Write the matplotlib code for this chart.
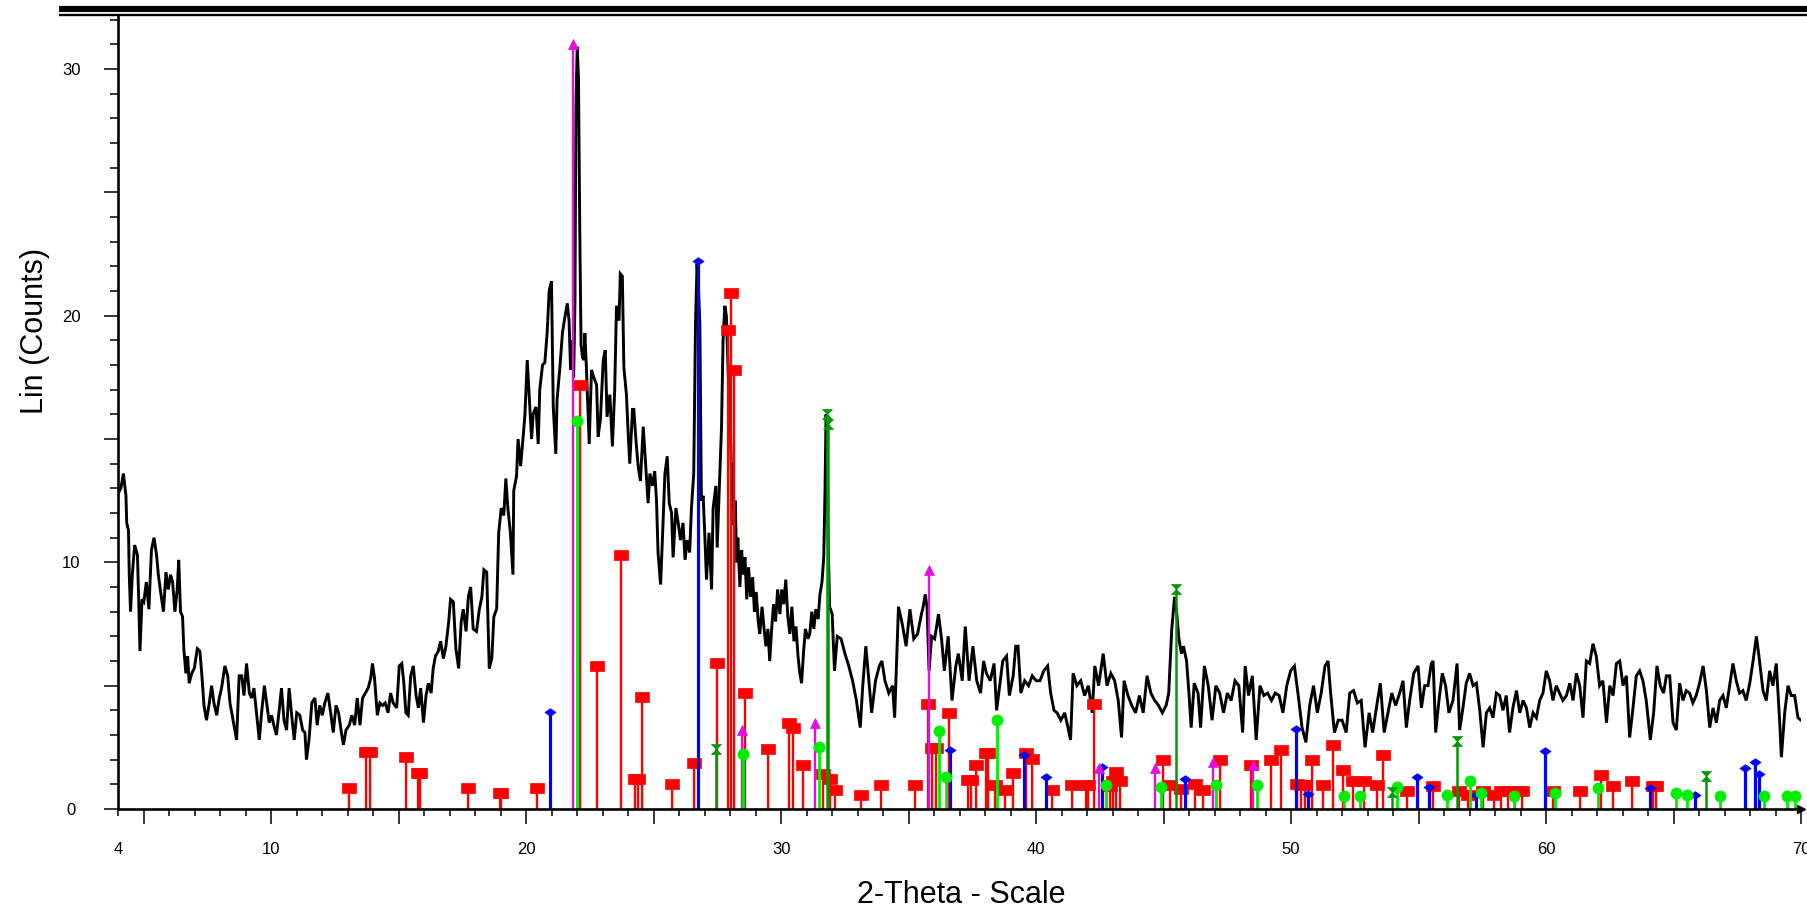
import matplotlib
matplotlib.use("Agg")
import matplotlib.pyplot as plt
from matplotlib.lines import Line2D

plt.rcParams['font.family'] = ['Liberation Sans', 'DejaVu Sans']

# ---------------- data ----------------
scan_points = [
 (4.0,12.8),(4.1,13.0),(4.2,13.6),(4.3,12.7),(4.33,11.6),(4.4,11.3),(4.43,9.5),(4.48,8.0),(4.55,9.5),(4.64,10.7),
 (4.75,10.3),(4.8,8.5),(4.85,6.4),(4.93,8.5),(5.0,8.4),(5.1,9.2),(5.2,8.1),(5.3,10.5),(5.4,11.0),(5.5,10.3),
 (5.57,9.5),(5.66,8.8),(5.77,8.0),(5.87,9.6),(5.96,8.9),(6.05,9.5),(6.13,9.2),(6.22,8.0),(6.31,8.9),(6.37,10.1),
 (6.44,8.0),(6.52,7.8),(6.57,6.5),(6.65,5.5),(6.72,6.2),(6.78,5.1),(6.88,5.5),(6.98,5.7),(7.1,6.5),(7.2,6.4),
 (7.28,5.4),(7.36,4.2),(7.46,3.6),(7.57,4.3),(7.66,5.0),(7.75,4.3),(7.86,3.8),(7.96,4.5),(8.05,4.9),(8.18,5.8),
 (8.29,5.4),(8.38,4.3),(8.5,3.6),(8.64,2.8),(8.74,5.4),(8.84,5.4),(8.93,4.6),(9.03,5.9),(9.14,4.7),(9.23,4.5),
 (9.32,4.9),(9.42,3.9),(9.53,2.8),(9.62,3.9),(9.73,5.0),(9.82,4.3),(9.92,3.5),(10.01,3.8),(10.1,3.4),(10.2,3.0),
 (10.3,3.9),(10.4,4.9),(10.5,3.6),(10.6,3.2),(10.7,4.9),(10.8,3.8),(10.9,2.8),(11.0,3.9),(11.12,3.8),(11.23,3.2),
 (11.32,3.1),(11.38,2.0),(11.48,2.8),(11.59,4.3),(11.71,4.5),(11.8,3.4),(11.9,4.2),(12.0,3.8),(12.1,4.3),(12.22,4.7),
 (12.33,3.9),(12.43,3.1),(12.54,4.2),(12.64,3.9),(12.75,3.1),(12.83,2.6),(12.93,3.2),(13.06,3.4),(13.16,3.8),(13.27,3.4),
 (13.37,4.5),(13.48,3.4),(13.58,4.5),(13.69,4.7),(13.8,4.9),(13.9,5.3),(13.97,5.9),(14.05,5.3),(14.16,3.8),(14.26,4.3),
 (14.37,4.2),(14.47,4.3),(14.58,3.9),(14.68,4.7),(14.78,4.3),(14.92,4.1),(15.02,5.8),(15.12,5.9),(15.2,5.1),(15.28,3.9),
 (15.37,3.8),(15.47,5.4),(15.57,5.8),(15.68,4.6),(15.77,4.1),(15.86,4.9),(15.97,3.5),(16.07,4.6),(16.16,5.1),(16.27,4.7),
 (16.35,5.7),(16.44,6.2),(16.55,6.4),(16.64,6.8),(16.75,6.1),(16.85,6.6),(16.96,7.6),(17.03,8.5),(17.14,8.4),(17.24,6.5),
 (17.35,5.7),(17.45,7.6),(17.53,8.1),(17.64,7.2),(17.73,8.6),(17.82,9.0),(17.92,7.3),(18.05,7.2),(18.16,8.1),(18.26,8.6),
 (18.34,9.7),(18.45,9.6),(18.5,7.7),(18.55,5.7),(18.65,6.1),(18.73,7.8),(18.84,8.1),(18.92,11.2),(19.02,12.2),(19.12,11.9),
 (19.2,13.4),(19.28,12.2),(19.38,11.2),(19.48,9.5),
 (19.51,12.9),(19.62,13.5),(19.68,15.0),(19.78,13.9),(19.88,15.1),(19.95,16.0),(20.04,18.2),(20.12,16.7),(20.21,15.0),(20.27,16.0),
 (20.38,16.3),(20.47,14.8),(20.53,17.0),(20.64,18.0),(20.73,18.1),(20.82,19.3),(20.9,21.0),(20.99,21.4),(21.06,16.3),(21.16,14.4),
 (21.21,16.6),(21.32,17.9),(21.42,19.3),(21.51,19.9),(21.61,20.5),(21.68,19.8),(21.74,17.8),(21.81,19.0),(21.86,17.5),(21.91,20.5),
 (21.95,28.5),(22.0,30.9),(22.05,29.6),(22.1,23.5),(22.15,18.8),(22.21,18.3),(22.26,18.2),(22.3,19.3),(22.36,17.9),(22.47,14.8),
 (22.56,17.8),(22.65,17.5),(22.76,17.2),(22.82,15.1),(22.91,15.8),(23.02,18.2),(23.1,18.6),(23.17,15.9),(23.28,16.8),(23.38,14.7),
 (23.47,17.0),(23.54,20.4),(23.64,19.8),(23.69,21.7),(23.77,21.6),(23.83,17.9),(23.93,16.8),(24.0,15.2),(24.06,14.0),(24.17,16.2),
 (24.22,16.2),(24.3,15.0),(24.39,13.9),(24.48,13.3),(24.59,15.5),(24.69,13.9),(24.78,12.4),(24.85,13.6),(24.95,13.1),(25.04,13.7),
 (25.11,12.5),(25.17,10.4),(25.27,9.1),(25.34,10.9),(25.44,13.6),(25.53,14.3),(25.61,12.4),(25.7,12.0),(25.76,10.2),(25.87,12.2),
 (25.96,11.6),(26.05,10.9),(26.15,11.6),(26.23,10.1),(26.31,10.9),(26.41,10.4),(26.48,12.2),(26.57,13.6),(26.64,19.7),(26.7,22.1),
 (26.76,21.0),(26.81,19.7),(26.87,12.5),(26.94,12.7),(27.0,11.2),(27.07,9.3),(27.17,11.2),(27.27,8.9),(27.33,12.2),(27.44,13.1),
 (27.49,10.6),(27.59,13.5),(27.66,15.5),(27.72,19.0),(27.79,20.4),(27.85,20.0),(27.92,17.7),(28.0,16.0),(28.05,13.5),
 (28.1,14.0),(28.15,11.5),(28.2,12.5),(28.25,10.0),(28.3,11.0),(28.38,9.0),(28.45,10.5),(28.5,9.5),(28.58,10.2),(28.65,8.5),
 (28.72,9.8),(28.8,8.6),(28.88,9.4),(28.95,8.0),(29.02,8.8),(29.1,7.6),(29.16,7.1),(29.25,8.2),(29.32,7.4),(29.4,6.6),
 (29.48,7.3),(29.55,6.0),(29.62,7.2),(29.7,8.3),(29.78,7.6),(29.86,8.9),(29.95,7.9),(30.02,8.9),(30.1,8.3),(30.18,9.3),
 (30.26,7.8),(30.34,7.1),(30.42,8.2),(30.5,6.8),(30.58,7.4),(30.66,6.2),(30.73,5.5),(30.8,5.1),(30.88,6.4),(30.95,7.3),
 (31.05,6.9),(31.12,7.1),(31.2,8.0),(31.28,7.3),(31.36,8.1),(31.45,7.7),(31.52,8.7),(31.6,9.2),(31.67,10.2),(31.72,13.0),
 (31.76,16.0),(31.8,15.2),(31.84,11.0),(31.9,8.2),(32.0,7.9),
 (32.09,5.6),(32.2,7.0),(32.35,6.9),(32.5,6.3),(32.65,5.8),(32.8,5.2),(32.95,4.4),(33.1,3.3),(33.2,5.0),(33.32,6.6),
 (33.44,5.2),(33.55,3.9),(33.7,5.2),(33.85,5.8),(33.95,6.0),(34.07,5.2),(34.22,4.7),(34.37,5.0),(34.45,3.7),(34.6,8.2),
 (34.75,7.5),(34.9,6.6),(35.05,8.1),(35.2,6.9),(35.35,7.1),(35.5,7.9),(35.57,8.2),(35.65,8.7),(35.72,8.2),(35.8,5.6),
 (35.9,7.0),(36.02,6.9),(36.17,7.9),(36.29,6.9),(36.4,5.6),(36.55,7.0),(36.7,4.4),(36.85,5.8),(36.95,6.3),(37.1,5.2),
 (37.22,7.4),(37.37,5.2),(37.52,6.6),(37.67,5.2),(37.82,4.7),(37.94,6.0),(38.05,5.5),(38.2,5.2),(38.35,5.9),(38.45,4.0),
 (38.57,5.0),(38.69,6.0),(38.84,6.2),(38.95,4.6),(39.1,5.4),(39.2,6.6),(39.29,6.6),(39.4,4.7),(39.55,5.2),(39.7,5.0),
 (39.85,5.4),(40.0,5.2),(40.15,5.2),(40.3,5.6),(40.45,5.8),(40.57,4.7),(40.7,4.0),(40.82,3.9),(40.97,3.6),(41.12,3.9),
 (41.25,3.3),(41.35,2.8),(41.45,5.5),(41.6,5.0),(41.75,5.2),(41.9,4.6),(42.05,5.0),(42.2,3.9),(42.3,5.8),(42.45,5.0),
 (42.63,6.3),(42.78,5.0),(42.93,5.5),(43.08,5.2),(43.22,4.4),(43.35,2.9),(43.45,5.2),(43.6,4.6),(43.75,4.2),(43.9,3.9),
 (44.05,4.6),(44.2,3.9),(44.35,5.4),(44.5,4.7),(44.65,4.4),(44.8,4.2),(44.95,3.9),(45.1,4.2),(45.2,4.7),(45.32,7.3),
 (45.43,8.6),(45.5,8.1),(45.6,6.9),(45.7,6.3),(45.78,6.6),(45.9,6.0),(46.0,4.6),(46.08,3.3),(46.2,5.1),(46.35,4.7),
 (46.45,3.3),(46.6,5.8),(46.75,5.0),(46.9,3.6),(47.05,5.0),(47.2,4.7),(47.35,3.9),(47.5,4.7),(47.65,4.4),(47.8,5.2),
 (47.95,5.0),(48.1,3.1),(48.2,5.8),(48.33,4.6),(48.48,5.4),(48.63,2.8),(48.78,5.0),(48.93,4.6),(49.08,4.7),(49.23,4.4),
 (49.38,4.7),(49.53,4.6),(49.68,3.9),(49.83,5.0),(49.98,5.6),(50.13,5.8),(50.28,4.6),(50.43,3.3),(50.58,2.7),(50.73,4.2),
 (50.88,5.0),(51.03,3.9),(51.18,4.7),(51.33,5.8),(51.45,6.0),(51.55,4.7),(51.7,3.1),(51.85,3.6),(52.0,3.6),(52.16,3.1),
 (52.3,4.7),(52.45,4.8),(52.6,4.3),(52.75,4.4),(52.9,2.5),(53.06,3.9),(53.2,3.1),(53.36,4.2),(53.5,5.1),(53.65,3.1),
 (53.8,3.9),(53.95,4.7),(54.1,4.2),(54.26,4.7),
 (54.39,5.2),(54.52,3.3),(54.65,4.4),(54.81,5.5),(54.98,5.8),(55.11,4.1),(55.24,5.0),(55.37,5.0),(55.5,5.9),(55.57,6.0),
 (55.67,3.1),(55.8,4.4),(55.93,5.5),(56.06,5.0),(56.19,3.9),(56.35,4.4),(56.51,5.9),(56.61,3.2),(56.74,4.1),(56.87,5.1),
 (57.0,5.5),(57.14,5.0),(57.27,5.1),(57.4,4.0),(57.53,2.5),(57.66,3.9),(57.79,4.1),(57.92,3.7),(58.05,4.7),(58.18,4.6),
 (58.31,4.0),(58.44,4.6),(58.57,3.1),(58.7,4.1),(58.84,4.8),(58.97,3.9),(59.1,4.4),(59.23,4.1),(59.36,3.3),(59.49,3.9),
 (59.62,3.7),(59.75,4.4),(59.88,4.7),(60.01,5.6),(60.14,5.2),(60.27,4.4),(60.4,5.0),(60.53,4.7),(60.66,4.4),(60.8,4.6),
 (60.93,5.1),(61.06,4.4),(61.19,5.5),(61.32,5.0),(61.45,3.7),(61.58,6.0),(61.71,5.9),(61.84,6.7),(61.97,6.2),(62.1,5.0),
 (62.23,5.2),(62.37,3.5),(62.5,5.0),(62.63,4.6),(62.76,5.9),(62.89,6.0),(63.02,5.0),(63.15,5.4),(63.28,2.9),(63.41,4.1),
 (63.54,5.4),(63.67,5.6),(63.8,5.2),(63.93,4.4),(64.09,2.8),(64.22,3.9),(64.35,5.8),(64.48,5.0),(64.61,4.7),(64.72,5.4),
 (64.85,5.4),(64.98,3.5),(65.11,3.2),(65.24,5.1),(65.37,4.4),(65.5,4.8),(65.63,4.7),(65.76,4.3),(65.89,4.6),(66.02,5.1),
 (66.16,5.8),(66.29,4.8),(66.42,3.3),(66.55,4.1),(66.68,3.5),(66.81,4.4),(66.94,4.6),(67.07,4.1),(67.2,5.0),(67.33,5.9),
 (67.46,5.2),(67.59,4.7),(67.72,4.8),(67.85,4.4),(67.99,5.1),(68.12,6.0),(68.25,7.0),(68.35,6.2),(68.51,4.8),(68.64,4.4),
 (68.77,5.6),(68.9,5.0),(69.03,5.9),(69.16,3.6),(69.23,2.1),(69.36,3.9),(69.49,5.0),(69.62,4.6),(69.75,4.6),(69.88,3.7),
 (70.0,3.6),
]

red_pos = [13.05,13.71,13.87,15.28,15.74,15.83,17.73,18.97,19.03,20.43,22.1,22.78,23.72,24.25,24.4,24.55,25.73,26.58,
           27.5,27.93,28.02,28.15,28.6,29.47,30.31,30.47,30.84,31.65,31.9,32.1,33.15,33.93,35.24,35.76,35.9,36.09,36.57,
           37.33,37.46,37.63,38.03,38.12,38.38,38.77,39.1,39.62,39.82,40.64,41.42,41.95,42.04,42.27,42.9,43.0,43.15,43.3,
           44.96,45.27,45.7,46.23,46.55,47.21,48.41,49.23,49.59,50.25,50.4,50.55,50.82,51.26,51.65,52.04,52.44,52.85,
           53.35,53.61,54.55,55.57,56.59,56.94,57.53,57.95,58.25,58.5,58.8,59.05,60.27,61.32,62.17,62.63,63.36,64.19,64.33]
red_int = [0.84,2.3,2.3,2.1,1.47,1.47,0.84,0.65,0.65,0.84,17.2,5.8,10.3,1.2,1.2,4.55,1.0,1.85,
           5.9,19.4,20.9,17.8,4.7,2.45,3.5,3.3,1.8,1.4,1.2,0.77,0.57,0.97,0.97,4.24,2.46,2.46,3.9,
           1.18,1.18,1.78,2.26,2.26,0.97,0.77,1.45,2.26,2.03,0.77,0.97,0.97,0.97,4.25,0.95,1.15,1.5,1.15,
           2.0,0.97,0.8,1.0,0.78,2.0,1.8,2.0,2.4,1.0,0.97,0.97,2.0,0.97,2.6,1.6,1.15,1.15,
           0.97,2.2,0.74,0.95,0.74,0.57,0.74,0.57,0.74,0.74,0.74,0.74,0.74,0.74,1.38,0.95,1.15,0.95,0.95]

blue_pos = [20.93,26.72,36.61,39.52,40.4,42.57,45.84,50.19,50.67,54.94,55.41,57.27,59.97,64.09,65.84,67.79,68.18,68.35]
blue_int = [3.94,22.2,2.4,2.2,1.3,1.7,1.2,3.25,0.6,1.3,0.88,0.57,2.35,0.85,0.57,1.66,1.9,1.42]

magenta_pos = [21.82,28.47,31.32,35.78,42.48,44.66,46.95,48.49]
magenta_int = [31.0,3.2,3.5,9.7,1.65,1.65,1.9,1.8]

lime_pos = [22.0,28.52,31.49,36.2,36.45,38.48,42.74,44.88,47.05,48.68,52.07,52.72,54.16,56.12,57.03,57.46,58.73,
            60.36,62.04,65.11,65.53,66.81,68.53,69.45,69.75]
lime_int = [15.75,2.25,2.5,3.15,1.3,3.6,0.97,0.88,0.97,0.97,0.54,0.54,0.88,0.57,1.15,0.65,0.51,
            0.65,0.84,0.65,0.57,0.54,0.54,0.54,0.54]

dgreen_pos = [27.44,31.78,31.82,45.5,53.94,56.51,66.26]
dgreen_int = [2.45,16.0,15.6,8.9,0.7,2.75,1.35]

x_tick_pos = [4, 5, 10, 15, 20, 25, 30, 35, 40, 45, 50, 55, 60, 65, 70]
x_tick_lab = ['4', '', '10', '', '20', '', '30', '', '40', '', '50', '', '60', '', '70']
y_tick_pos = [0, 5, 10, 15, 20, 25, 30]
y_tick_lab = ['0', '', '10', '', '20', '', '30']

# ---------------- figure ----------------
W, H, DPI = 1807, 911, 100
fig = plt.figure(figsize=(W / DPI, H / DPI), dpi=DPI)
ax_l, ax_r, ax_b, ax_t = 118.3, 1801.0, 809.0, 16.0
ax = fig.add_axes([ax_l / W, 1 - ax_b / H, (ax_r - ax_l) / W, (ax_b - ax_t) / H])
ax.set_xlim(4, 70)
ax.set_ylim(0, 32.15)

tt = [p[0] for p in scan_points]
cc = [p[1] for p in scan_points]
ax.plot(tt, cc, color='black', lw=2.1, zorder=2, solid_joinstyle='miter')

rect = [(-1.3, -1), (1.3, -1), (1.3, 1), (-1.3, 1), (-1.3, -1)]
diamond = [(0, 1), (1.45, 0), (0, -1), (-1.45, 0), (0, 1)]
hourglass = [(-1, 1), (1, 1), (0, 0), (1, -1), (-1, -1), (0, 0), (-1, 1)]

def sticks(pos, inten, color, lw, marker, ms, z):
    ax.vlines(pos, 0, inten, colors=color, lw=lw, zorder=z)
    ax.plot(pos, inten, ls='none', marker=marker, ms=ms, color=color,
            markeredgecolor=color, markeredgewidth=0.5, zorder=z + 0.1, clip_on=False)

sticks(red_pos, red_int, '#ff0000', 1.7, rect, 9.4, 3)
sticks(blue_pos, blue_int, '#0000ff', 2.3, diamond, 8.0, 3.3)
sticks(magenta_pos, magenta_int, '#e010e0', 1.7, '^', 7.5, 3.4)
sticks(lime_pos, lime_int, '#00ee00', 2.0, 'o', 8.0, 3.5)
sticks(dgreen_pos, dgreen_int, '#009a00', 1.8, hourglass, 7.2, 3.6)

# spines
for s in ['top', 'right']:
    ax.spines[s].set_visible(False)
for s in ['left', 'bottom']:
    ax.spines[s].set_linewidth(1.9)
    ax.spines[s].set_color('black')
    ax.spines[s].set_zorder(5)

# ticks
ax.set_xticks(x_tick_pos)
ax.set_xticklabels(x_tick_lab)
ax.set_xticks(range(4, 71), minor=True)
ax.set_yticks(y_tick_pos)
ax.set_yticklabels(y_tick_lab)
ax.set_yticks(range(0, 33), minor=True)
ax.tick_params(axis='x', which='major', direction='out', length=11, width=1.1, pad=12.5,
               labelsize=12, colors='black')
ax.tick_params(axis='x', which='minor', direction='out', length=5.3, width=1.1)
ax.tick_params(axis='y', which='major', direction='out', length=10.3, width=1.1, pad=23.5,
               labelsize=12, colors='black')
ax.tick_params(axis='y', which='minor', direction='out', length=5.5, width=1.1)
ax.xaxis.get_major_ticks()[0].tick1line.set_markersize(5.3)
for lab in ax.get_yticklabels():
    lab.set_horizontalalignment('center')

# arrow at the end of the x axis
ax.plot([70], [0], marker='>', ms=5.8, color='black', clip_on=False, zorder=6)

# axis titles
fig.text(961 / W, 1 - 895 / H, '2-Theta - Scale', ha='center', va='center', fontsize=22)
fig.text(35 / W, 1 - 331 / H, 'Lin (Counts)', ha='center', va='center', rotation=90, fontsize=22)

# top double rule
fig.add_artist(Line2D([59 / W, 1], [1 - 9 / H, 1 - 9 / H], transform=fig.transFigure,
                      color='black', lw=4.4, solid_capstyle='butt'))
fig.add_artist(Line2D([59 / W, 1], [1 - 14.5 / H, 1 - 14.5 / H], transform=fig.transFigure,
                      color='black', lw=1.7, solid_capstyle='butt'))

fig.savefig('out.png', dpi=DPI)
